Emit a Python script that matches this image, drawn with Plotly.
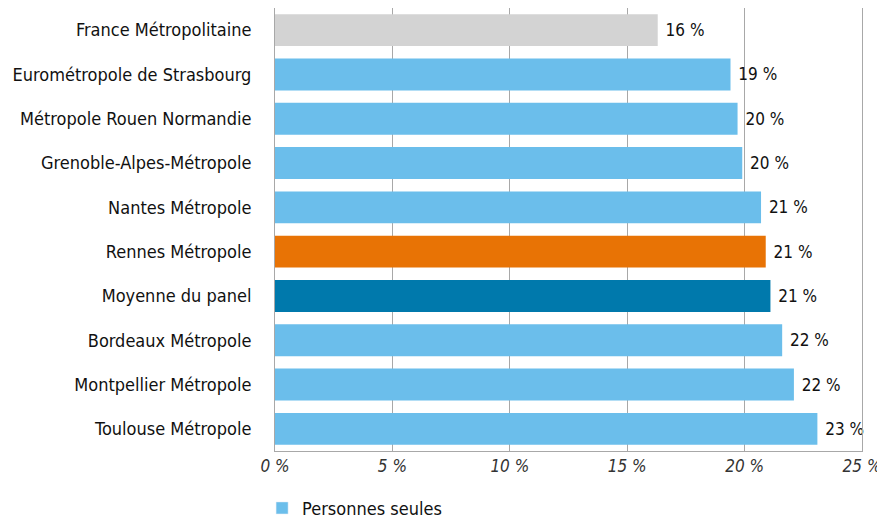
import plotly.graph_objects as go

categories = [
    "France Métropolitaine",
    "Eurométropole de Strasbourg",
    "Métropole Rouen Normandie",
    "Grenoble-Alpes-Métropole",
    "Nantes Métropole",
    "Rennes Métropole",
    "Moyenne du panel",
    "Bordeaux Métropole",
    "Montpellier Métropole",
    "Toulouse Métropole",
]
values = [16.3, 19.4, 19.7, 19.9, 20.7, 20.9, 21.1, 21.6, 22.1, 23.1]
bar_colors = ["#D3D3D3", "#6BBEEB", "#6BBEEB", "#6BBEEB", "#6BBEEB",
              "#E87305", "#0079AC", "#6BBEEB", "#6BBEEB", "#6BBEEB"]
tick_values = [0, 5, 10, 15, 20, 25]
tick_labels = ["0 %", "5 %", "10 %", "15 %", "20 %", "25 %"]
series_name = "Personnes seules"

FONT = "DejaVu Sans Condensed, Liberation Sans Narrow, sans-serif"

fig = go.Figure()
fig.add_trace(go.Bar(
    y=categories, x=values, orientation="h",
    marker=dict(color=bar_colors, line=dict(width=0)),
    text=["\u00a0" + f"{round(v)}\u00a0%" for v in values],
    textposition="outside",
    textfont=dict(family=FONT, size=17, color="#111111"),
    cliponaxis=False,
    showlegend=False,
    hoverinfo="skip",
))
fig.add_trace(go.Bar(
    y=[None], x=[None], orientation="h",
    marker=dict(color="#6BBEEB"),
    name=series_name, showlegend=True,
))

fig.update_layout(
    width=885, height=520,
    margin=dict(l=267, r=31, t=0, b=77),
    paper_bgcolor="white", plot_bgcolor="white",
    bargap=0.28,
    font=dict(family=FONT, size=17, color="#111111"),
    legend=dict(
        orientation="h", x=-0.022, xanchor="left",
        yref="container", y=0.038, yanchor="middle",
        font=dict(family=FONT, size=18, color="#111111"),
        bgcolor="rgba(0,0,0,0)",
    ),
    xaxis=dict(
        range=[0, 25], tickvals=tick_values, ticktext=tick_labels,
        showgrid=True, gridcolor="#A8A8A8", gridwidth=1,
        showline=True, linecolor="#A8A8A8", mirror=True,
        zeroline=False, ticks="",
        tickfont=dict(family=FONT, size=17, color="#333333", style="italic"),
        fixedrange=True,
    ),
    yaxis=dict(
        autorange="reversed",
        showline=True, linecolor="#A8A8A8", mirror=True,
        showgrid=False, ticks="", ticklabelstandoff=19,
        tickfont=dict(family=FONT, size=18, color="#111111"),
        fixedrange=True,
    ),
)

fig.write_html("out.html")
